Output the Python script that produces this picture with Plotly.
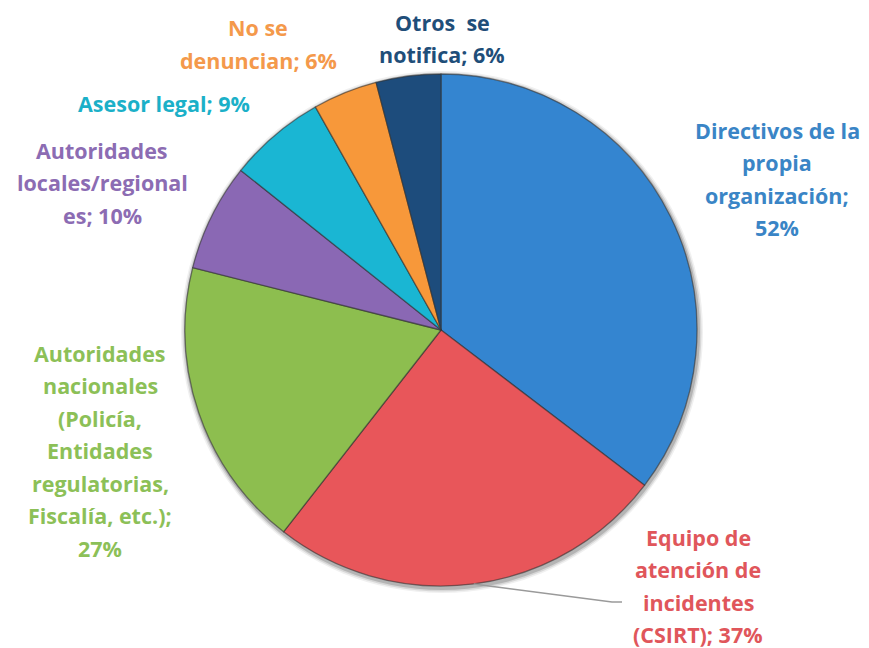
import math
import plotly.graph_objects as go

W, H = 869, 648

# Slices, clockwise from 12 o'clock
categories = [
    "Directivos de la propia organización",
    "Equipo de atención de incidentes (CSIRT)",
    "Autoridades nacionales (Policía, Entidades regulatorias, Fiscalía, etc.)",
    "Autoridades locales/regionales",
    "Asesor legal",
    "No se denuncian",
    "Otros se notifica",
]
values = [52, 37, 27, 10, 9, 6, 6]
slice_colors = ["#3485D0", "#E8565A", "#8DBE4F", "#8A68B4", "#1AB6D3", "#F7983A", "#1D4C7C"]
text_colors = ["#3A85C6", "#E0565B", "#8CC057", "#8C6CB3", "#1BB0C8", "#F4994B", "#1F4E79"]

# Label lines as printed beside each slice
label_lines = [
    ["Directivos de la", "propia", "organización;", "52%"],
    ["Equipo de", "atención de", "incidentes", "(CSIRT); 37%"],
    ["Autoridades", "nacionales", "(Policía,", "Entidades", "regulatorias,", "Fiscalía, etc.);", "27%"],
    ["Autoridades", "locales/regional", "es; 10%"],
    ["Asesor legal; 9%"],
    ["No se", "denuncian; 6%"],
    ["Otros&nbsp;&nbsp;se", "notifica; 6%"],
]
# Label block anchors (pixel centre x, first-line y)
label_pos = [(777, 130), (698, 537), (100, 353), (102, 150), (164, 103), (258, 28), (442, 22)]
line_step = 32.5

# Pie geometry in pixels
cx, cy, r = 441, 330, 256

fig = go.Figure()

# soft drop shadow under the rim
for k, a in [(5, 0.06), (3.5, 0.10), (2, 0.16)]:
    fig.add_shape(type="circle", xref="paper", yref="paper", layer="below",
                  x0=(cx - r - k + 1) / W, x1=(cx + r + k + 1) / W,
                  y0=1 - (cy + r + k + 2) / H, y1=1 - (cy - r - k + 2) / H,
                  fillcolor=f"rgba(0,0,0,{a})", line=dict(width=0))

fig.add_trace(go.Pie(
    labels=categories,
    values=values,
    sort=False,
    direction="clockwise",
    rotation=0,
    marker=dict(colors=slice_colors, line=dict(color="rgba(50,50,50,0.6)", width=1.3)),
    textinfo="none",
    hoverinfo="label+value",
    showlegend=False,
    domain=dict(x=[(cx - r) / W, (cx + r) / W], y=[1 - (cy + r) / H, 1 - (cy - r) / H]),
))

annotations = []
for lines, (px, py), col in zip(label_lines, label_pos, text_colors):
    for i, t in enumerate(lines):
        annotations.append(dict(
            x=px / W, y=1 - (py + i * line_step) / H, xref="paper", yref="paper",
            text=f"<b>{t}</b>", showarrow=False, xanchor="center", yanchor="middle",
            font=dict(family="Open Sans", size=21.5, color=col),
        ))

# Leader line from the middle of the CSIRT slice's rim to its label
total = sum(values)
start = sum(values[:1]) / total * 360
mid = math.radians(start + values[1] / total * 360 / 2)
x0 = cx + r * math.sin(mid)
y0 = cy - r * math.cos(mid)
lx, ly = label_pos[1][0] - 76, label_pos[1][1] + 2 * line_step
path = f"M {x0 / W},{1 - y0 / H} L {(lx - 10) / W},{1 - ly / H} L {lx / W},{1 - ly / H}"
fig.add_shape(type="path", path=path, xref="paper", yref="paper",
              line=dict(color="#9A9A9A", width=1.5))

fig.update_layout(
    width=W, height=H,
    margin=dict(l=0, r=0, t=0, b=0),
    paper_bgcolor="white",
    plot_bgcolor="white",
    annotations=annotations,
)

fig.write_html("out.html")
